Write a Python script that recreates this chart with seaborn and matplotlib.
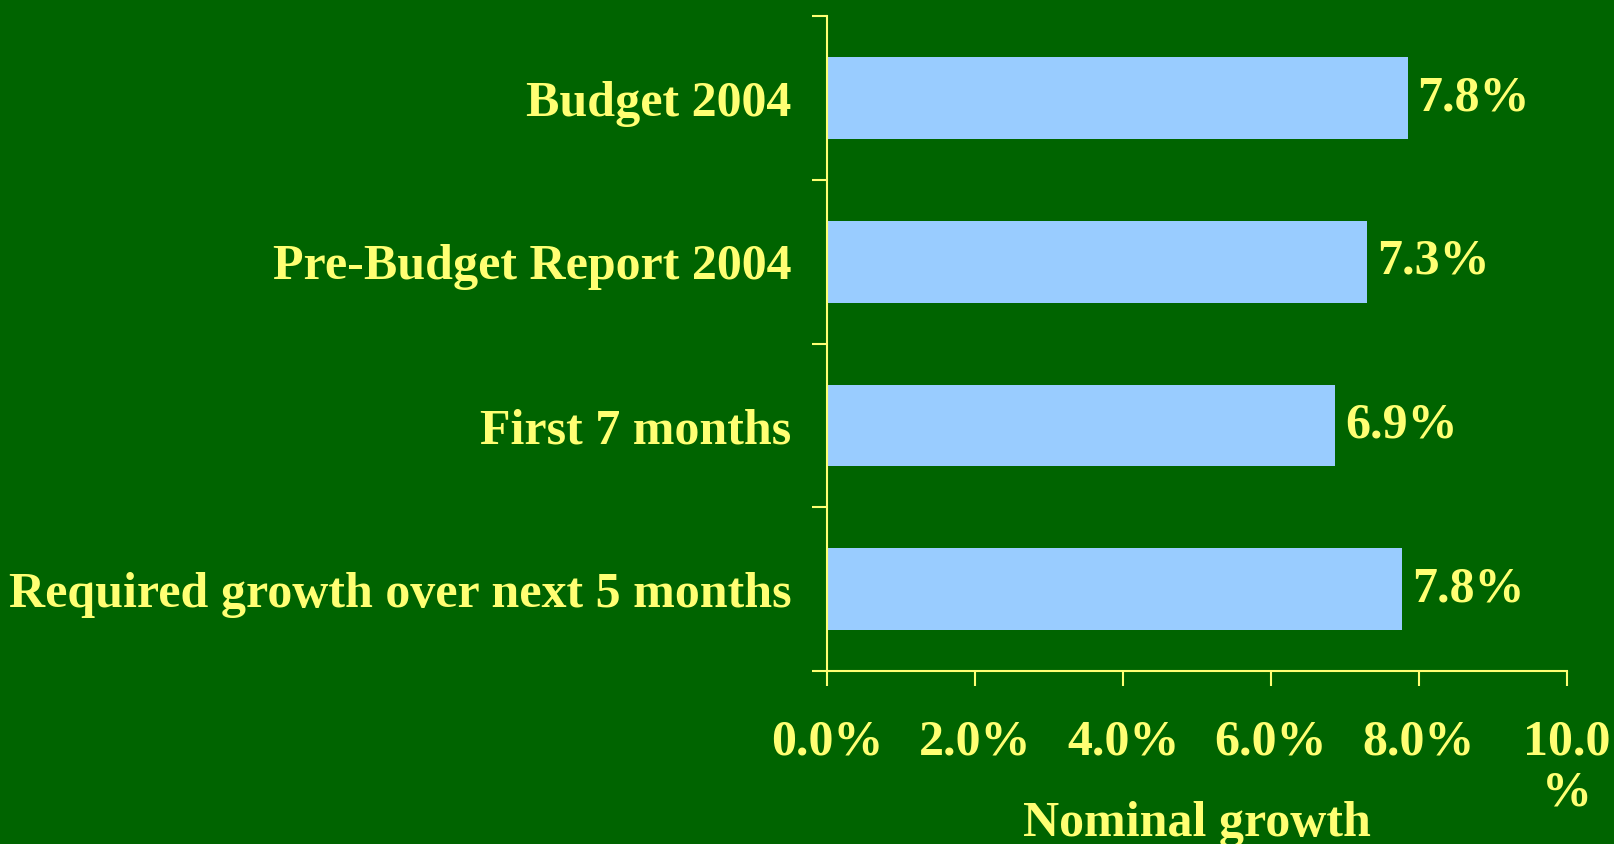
import matplotlib
matplotlib.use("Agg")
import matplotlib.pyplot as plt
import seaborn as sns
import pandas as pd

# data
categories = ['Budget 2004', 'Pre-Budget Report 2004', 'First 7 months',
              'Required growth over next 5 months']
growth = [7.85, 7.3, 6.87, 7.78]
bar_labels = ['7.8%', '7.3%', '6.9%', '7.8%']
xticks = [0, 2, 4, 6, 8, 10]
xtick_labels = ['0.0%', '2.0%', '4.0%', '6.0%', '8.0%', '10.0\n%']

bg = '#006400'
fg = '#ffff73'
bar_col = '#99ccff'

sns.set_style('white')
plt.rcParams['font.family'] = ['Liberation Serif', 'DejaVu Serif']
plt.rcParams['font.weight'] = 'bold'

df = pd.DataFrame({'cat': categories, 'val': growth})

fig = plt.figure(figsize=(16.14, 8.44), dpi=100, facecolor=bg)
ax = fig.add_axes([0.5127, 0.205, 0.9706 - 0.5127, 0.9805 - 0.205])
ax.set_facecolor(bg)

sns.barplot(data=df, x='val', y='cat', orient='h', color=bar_col,
            saturation=1, width=0.5, linewidth=0, ax=ax)

fs = 36
ax.set_xlim(0, 10)
ax.set_ylim(3.5, -0.5)

# x axis
ax.set_xticks(xticks)
ax.set_xticklabels(xtick_labels, fontsize=fs, color=fg, fontweight='bold')
for t in ax.get_xticklabels():
    t.set_linespacing(1.15)
ax.tick_params(axis='x', bottom=True, direction='out', length=11, width=1.5,
               color=fg, pad=24)

# y axis: ticks at category borders, labels in the middle
ax.set_yticks([-0.5, 0.5, 1.5, 2.5, 3.5])
ax.set_yticklabels([])
ax.set_yticks(range(len(categories)), minor=True)
ax.set_yticklabels(categories, minor=True, fontsize=fs, color=fg, fontweight='bold')
ax.tick_params(axis='y', which='major', left=True, direction='out', length=11,
               width=1.5, color=fg)
ax.tick_params(axis='y', which='minor', left=True, length=0, pad=26)

ax.set_xlabel('Nominal growth', fontsize=fs, color=fg, fontweight='bold')
ax.xaxis.set_label_coords(0.5, -0.198)
ax.set_ylabel('')

for s in ['top', 'right']:
    ax.spines[s].set_visible(False)
for s in ['left', 'bottom']:
    ax.spines[s].set_color(fg)
    ax.spines[s].set_linewidth(1.5)

ax.bar_label(ax.containers[0], labels=bar_labels, padding=7, fontsize=fs,
             color=fg, fontweight='bold')

fig.savefig('out.png', dpi=100, facecolor=bg)
